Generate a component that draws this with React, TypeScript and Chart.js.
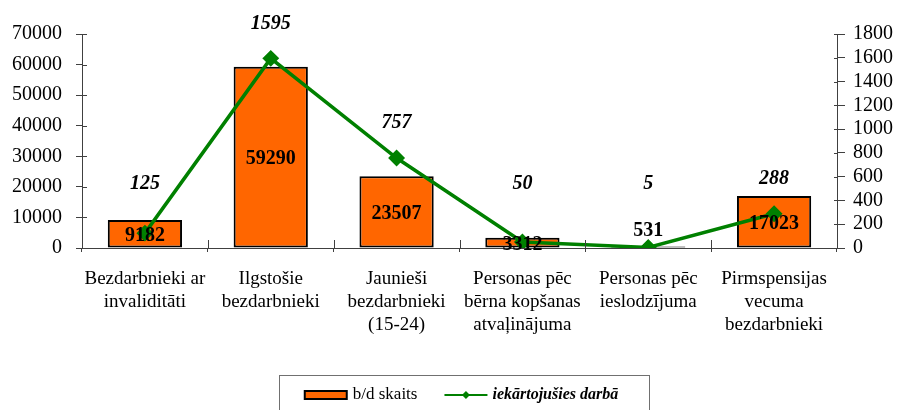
import React, { useEffect, useRef } from 'react';
import { Chart, registerables } from 'chart.js';

Chart.register(...registerables);

const categories: string[][] = [
  ['Bezdarbnieki ar', 'invaliditāti'],
  ['Ilgstošie', 'bezdarbnieki'],
  ['Jaunieši', 'bezdarbnieki', '(15-24)'],
  ['Personas pēc', 'bērna kopšanas', 'atvaļinājuma'],
  ['Personas pēc', 'ieslodzījuma'],
  ['Pirmspensijas', 'vecuma', 'bezdarbnieki'],
];
const unemployedCount = [9182, 59290, 23507, 3312, 531, 17023];
const employedCount = [125, 1595, 757, 50, 5, 288];
const barSeriesName = 'b/d skaits';
const lineSeriesName = 'iekārtojušies darbā';
const leftAxisMax = 70000;
const leftAxisStep = 10000;
const rightAxisMax = 1800;
const rightAxisStep = 200;

const SERIF = "'Liberation Serif', 'Times New Roman', serif";
const ORANGE = '#FF6600';
const GREEN = '#008000';
const AXIS = '#404040';

const labelsPlugin = {
  id: 'valueLabels',
  afterDatasetsDraw(chart: any) {
    const ctx = chart.ctx as CanvasRenderingContext2D;
    ctx.save();
    ctx.fillStyle = '#000';
    ctx.textAlign = 'center';
    ctx.textBaseline = 'middle';
    ctx.font = `bold 20px ${SERIF}`;
    const barMeta = chart.getDatasetMeta(0);
    barMeta.data.forEach((el: any, i: number) => {
      const h = el.base - el.y;
      const y = h < 6 ? el.y - 16 : (el.y + el.base) / 2 + 2;
      ctx.fillText(String(unemployedCount[i]), el.x, y);
    });
    ctx.font = `italic bold 20px ${SERIF}`;
    const lineMeta = chart.getDatasetMeta(1);
    const yR = chart.scales.yRight;
    const cap = yR.getPixelForValue(540);
    lineMeta.data.forEach((el: any, i: number) => {
      const y = Math.min(el.y - 35, cap);
      ctx.fillText(String(employedCount[i]), el.x, y);
    });
    ctx.restore();
  },
};

const axisDecorPlugin = {
  id: 'axisDecor',
  afterDraw(chart: any) {
    const ctx = chart.ctx as CanvasRenderingContext2D;
    const { left, right, bottom } = chart.chartArea;
    ctx.save();
    ctx.strokeStyle = AXIS;
    ctx.lineWidth = 1;
    const yL = chart.scales.y;
    yL.ticks.forEach((t: any) => {
      const py = Math.round(yL.getPixelForValue(t.value)) + 0.5;
      ctx.beginPath();
      ctx.moveTo(left, py);
      ctx.lineTo(left + 5, py);
      ctx.stroke();
    });
    const yR = chart.scales.yRight;
    yR.ticks.forEach((t: any) => {
      const py = Math.round(yR.getPixelForValue(t.value)) + 0.5;
      ctx.beginPath();
      ctx.moveTo(right - 3, py);
      ctx.lineTo(right, py);
      ctx.stroke();
    });
    const n = categories.length;
    for (let i = 0; i <= n; i++) {
      const px = Math.round(left + (i * (right - left)) / n) + 0.5;
      ctx.beginPath();
      ctx.moveTo(px, bottom - 8);
      ctx.lineTo(px, bottom);
      ctx.stroke();
    }
    ctx.restore();
  },
};

const legendPlugin = {
  id: 'customLegend',
  afterDraw(chart: any) {
    const ctx = chart.ctx as CanvasRenderingContext2D;
    const { left, right } = chart.chartArea;
    const cx = (left + right) / 2;
    ctx.save();
    const f1 = `17px ${SERIF}`;
    const f2 = `italic bold 16px ${SERIF}`;
    ctx.font = f1;
    const w1 = ctx.measureText(barSeriesName).width;
    ctx.font = f2;
    const w2 = ctx.measureText(lineSeriesName).width;
    const boxW = 42;
    const lineW = 43;
    const total = boxW + 6 + w1 + 27 + lineW + 5 + w2;
    const x0 = cx - total / 2 + 2;
    const top = chart.height - 35;
    const cy = top + 20;
    ctx.strokeStyle = '#707070';
    ctx.lineWidth = 1;
    ctx.strokeRect(Math.round(x0 - 26) + 0.5, top + 0.5, Math.round(total + 57), 60);
    ctx.fillStyle = ORANGE;
    ctx.fillRect(x0, cy - 4, boxW, 8);
    ctx.strokeStyle = '#000';
    ctx.lineWidth = 2;
    ctx.strokeRect(x0, cy - 4, boxW, 8);
    ctx.fillStyle = '#000';
    ctx.textBaseline = 'middle';
    ctx.textAlign = 'left';
    ctx.font = f1;
    let x = x0 + boxW + 6;
    ctx.fillText(barSeriesName, x, cy);
    x += w1 + 27;
    ctx.strokeStyle = GREEN;
    ctx.lineWidth = 2;
    ctx.beginPath();
    ctx.moveTo(x, cy);
    ctx.lineTo(x + lineW, cy);
    ctx.stroke();
    ctx.fillStyle = GREEN;
    ctx.beginPath();
    const mx = x + lineW / 2;
    ctx.moveTo(mx, cy - 4);
    ctx.lineTo(mx + 4, cy);
    ctx.lineTo(mx, cy + 4);
    ctx.lineTo(mx - 4, cy);
    ctx.closePath();
    ctx.fill();
    x += lineW + 5;
    ctx.fillStyle = '#000';
    ctx.font = f2;
    ctx.fillText(lineSeriesName, x, cy);
    ctx.restore();
  },
};

export default function App() {
  const canvasRef = useRef<HTMLCanvasElement | null>(null);

  useEffect(() => {
    if (!canvasRef.current) return;
    const chart = new Chart(canvasRef.current, {
      type: 'bar',
      data: {
        labels: categories,
        datasets: [
          {
            type: 'bar',
            label: barSeriesName,
            data: unemployedCount,
            backgroundColor: ORANGE,
            borderColor: '#000',
            borderWidth: 2,
            borderSkipped: false,
            barPercentage: 0.59,
            categoryPercentage: 1,
            yAxisID: 'y',
            order: 2,
          },
          {
            type: 'line',
            label: lineSeriesName,
            data: employedCount,
            borderColor: GREEN,
            backgroundColor: GREEN,
            borderWidth: 3.5,
            pointStyle: 'rectRot',
            pointRadius: 6,
            pointBackgroundColor: GREEN,
            pointBorderColor: GREEN,
            tension: 0,
            yAxisID: 'yRight',
            order: 1,
          } as any,
        ],
      },
      options: {
        responsive: false,
        animation: false,
        layout: { padding: { top: 34, left: 0, right: 0, bottom: 0 } },
        plugins: {
          legend: { display: false },
          tooltip: { enabled: false },
          title: { display: false },
        },
        scales: {
          x: {
            offset: true,
            grid: {
              display: true,
              offset: true,
              drawOnChartArea: false,
              tickLength: 4,
              color: AXIS,
            },
            border: { display: true, color: AXIS, width: 1 },
            ticks: {
              color: '#000',
              padding: 16,
              maxRotation: 0,
              autoSkip: false,
              font: { family: SERIF, size: 19, lineHeight: 23 / 19 },
            },
            afterFit(scale: any) {
              scale.height = 162;
            },
          },
          y: {
            position: 'left',
            min: 0,
            max: leftAxisMax,
            grid: { drawOnChartArea: false, tickLength: 6, color: AXIS },
            border: { display: true, color: AXIS, width: 1 },
            ticks: {
              stepSize: leftAxisStep,
              autoSkip: false,
              color: '#000',
              padding: 14,
              font: { family: SERIF, size: 20 },
              callback: (v: any) => String(v),
            },
            afterFit(scale: any) {
              scale.width = 82;
            },
          },
          yRight: {
            position: 'right',
            min: 0,
            max: rightAxisMax,
            grid: { drawOnChartArea: false, tickLength: 8, color: AXIS },
            border: { display: true, color: AXIS, width: 1 },
            ticks: {
              stepSize: rightAxisStep,
              autoSkip: false,
              color: '#000',
              padding: 8,
              font: { family: SERIF, size: 20 },
              callback: (v: any) => String(v),
            },
            afterFit(scale: any) {
              scale.width = 60;
            },
          },
        },
      },
      plugins: [labelsPlugin, axisDecorPlugin, legendPlugin],
    });
    return () => chart.destroy();
  }, []);

  return (
    <div style={{ position: 'absolute', left: 0, top: 0, width: 897, height: 410, background: '#fff' }}>
      <canvas ref={canvasRef} width={897} height={410} style={{ display: 'block' }} />
    </div>
  );
}
